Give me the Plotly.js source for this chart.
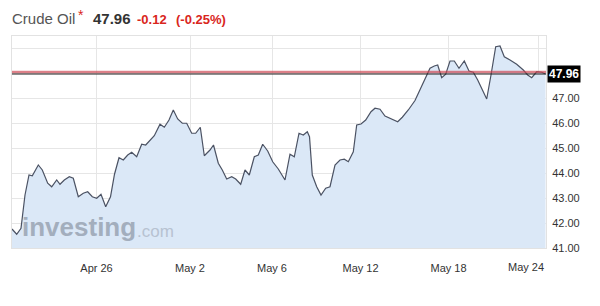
<!DOCTYPE html>
<html>
<head>
<meta charset="utf-8">
<script src="https://cdn.plot.ly/plotly-3.0.1.min.js"></script>
<style>html,body{margin:0;padding:0;background:#fff;}#chart{width:600px;height:306px;}</style>
</head>
<body>
<div id="chart"></div>
<script>
// time (trading hours, approx.) and Crude Oil price
var hours = [0,4.7,9,13,17,20.3,26.3,30.3,35.7,39.7,44.7,48,52.3,57.3,61.3,66.3,71.3,75.7,80.3,84.7,
  89,93.7,98.5,102.5,107,111.3,115.7,119.7,124.7,129.7,133.7,138,142.3,148,152.3,157,161.3,165.7,170.3,174.7,
  179.7,183.7,188.3,192.3,198,201.5,206.3,210.3,214.7,219.7,223.7,228.7,233,237.3,242.3,246.3,250.7,255.7,260.7,266.3,
  273,278,282.3,287,291.3,295.3,297.5,300.3,304.7,309,313.7,318,323,328,332.3,336.3,341.3,344.7,349,353.7,
  359,363,368,373,378,381.3,385.7,390.3,396.3,403,408,413.7,418,422.3,425.7,429.7,433.7,438,442.3,447,
  452.3,457,461.3,465.7,470.3,474.7,479,483.7,488,492.3,498,504.7,511.3,515.7,519.7,524.7,529.7,533.5];
var price = [41.76,41.55,41.79,43.12,43.92,43.89,44.32,44.12,43.59,43.45,43.72,43.55,43.72,43.85,43.79,43.05,43.19,43.25,43.05,42.99,
  43.15,42.65,43.05,43.95,44.61,44.52,44.72,44.83,44.65,45.15,45.12,45.32,45.49,45.95,45.83,46.12,46.52,46.16,45.99,45.99,
  45.59,45.59,45.83,44.69,44.92,45.12,44.39,44.12,43.76,43.85,43.76,43.55,44.12,43.92,44.65,44.72,45.15,44.88,44.45,44.16,
  43.72,44.75,44.65,45.59,45.52,45.65,45.45,43.92,43.45,43.12,43.39,43.45,44.32,44.52,44.55,44.45,44.85,45.92,45.96,46.12,
  46.45,46.59,46.55,46.28,46.19,46.15,46.05,46.23,46.52,46.9,47.32,47.81,48.19,48.28,48.32,47.81,47.95,48.48,48.48,48.19,
  48.48,48.08,48.03,47.72,47.32,46.96,47.92,49.05,49.08,48.65,48.52,48.35,48.12,47.92,47.81,48.05,48.03,47.96];

var xTickVals = [84.5,178,260,348.5,436.5,526.5];
var xTickText = ['Apr 26','May 2','May 6','May 12','May 18',''];
var lastDateLabel = 'May 24';
var lastDateX = 514;
var yTickVals = [41,42,43,44,45,46,47,48,49];
var yTickText = ['41.00','42.00','43.00','44.00','45.00','46.00','47.00','',''];

var lastPrice = 47.96;
var prevLine = 48.04;
var change = '-0.12';
var changePct = '(-0.25%)';
var instrument = 'Crude Oil';

var FONT = '"Liberation Sans", Arial, sans-serif';

var trace = {
  x: hours, y: price, type: 'scatter', mode: 'lines',
  line: {color: '#4b5263', width: 1.2},
  fill: 'tozeroy', fillcolor: '#dbe8f7',
  hoverinfo: 'skip'
};

function px(xp){ return xp - 12; }
function py(yp){ return 36 - yp; }

var layout = {
  width: 600, height: 306,
  margin: {l: 12, r: 54, t: 36, b: 58, pad: 0},
  paper_bgcolor: '#ffffff', plot_bgcolor: '#ffffff',
  showlegend: false,
  font: {family: FONT, size: 11, color: '#333333'},
  xaxis: {
    range: [0, 534], tickmode: 'array', tickvals: xTickVals, ticktext: xTickText,
    showgrid: true, gridcolor: '#e6e6e6', gridwidth: 1, zeroline: false,
    showline: true, mirror: true, linecolor: '#e2e2e2', linewidth: 1,
    ticks: '', ticklabelstandoff: 10,
    tickfont: {family: FONT, size: 11, color: '#333333'}, fixedrange: true
  },
  yaxis: {
    range: [41, 49.48], side: 'right', tickmode: 'array', tickvals: yTickVals, ticktext: yTickText,
    showgrid: true, gridcolor: '#e6e6e6', gridwidth: 1, zeroline: false,
    showline: true, mirror: true, linecolor: '#e2e2e2', linewidth: 1,
    ticks: '', ticklabelstandoff: 3,
    tickfont: {family: FONT, size: 11, color: '#333333'}, fixedrange: true
  },
  shapes: [
    {type: 'line', xref: 'paper', x0: 0, x1: 1, yref: 'y', y0: prevLine, y1: prevLine,
     line: {color: 'rgba(214,90,100,0.35)', width: 3}},
    {type: 'line', xref: 'paper', x0: 0, x1: 1, yref: 'y', y0: prevLine, y1: prevLine,
     line: {color: '#c83c48', width: 1}},
    {type: 'line', xref: 'paper', x0: 0, x1: 1, yref: 'y', y0: lastPrice, y1: lastPrice,
     line: {color: '#1f1f1f', width: 1}}
  ],
  annotations: [
    {xref: 'paper', yref: 'paper', x: 0, y: 1, xshift: px(11), yshift: py(18), xanchor: 'left', yanchor: 'middle',
     text: instrument, showarrow: false, borderpad: 0, font: {family: FONT, size: 15, color: '#555555'}},
    {xref: 'paper', yref: 'paper', x: 0, y: 1, xshift: px(77), yshift: py(15), xanchor: 'left', yanchor: 'middle',
     text: '*', showarrow: false, borderpad: 0, font: {family: FONT, size: 14, color: '#d9261c'}},
    {xref: 'paper', yref: 'paper', x: 0, y: 1, xshift: px(92), yshift: py(18), xanchor: 'left', yanchor: 'middle',
     text: '<b>' + lastPrice.toFixed(2) + '</b>', showarrow: false, borderpad: 0, font: {family: FONT, size: 15, color: '#333333'}},
    {xref: 'paper', yref: 'paper', x: 0, y: 1, xshift: px(136), yshift: py(19), xanchor: 'left', yanchor: 'middle',
     text: '<b>' + change + '</b>', showarrow: false, borderpad: 0, font: {family: FONT, size: 13, color: '#d9261c'}},
    {xref: 'paper', yref: 'paper', x: 0, y: 1, xshift: px(175), yshift: py(19), xanchor: 'left', yanchor: 'middle',
     text: '<b>' + changePct + '</b>', showarrow: false, borderpad: 0, font: {family: FONT, size: 13, color: '#d9261c'}},
    {xref: 'paper', yref: 'y', x: 1, y: lastPrice, xshift: 1, xanchor: 'left', yanchor: 'middle',
     text: '<b>' + lastPrice.toFixed(2) + '</b>', showarrow: false, bgcolor: '#000000', borderpad: 1,
     font: {family: FONT, size: 12, color: '#ffffff'}},
    {xref: 'x', yref: 'paper', x: lastDateX, y: 0, yshift: -19, xanchor: 'center', yanchor: 'middle',
     text: lastDateLabel, showarrow: false, font: {family: FONT, size: 11, color: '#333333'}},
    {xref: 'paper', yref: 'paper', x: 0, y: 0, xshift: 9, yshift: 5, xanchor: 'left', yanchor: 'bottom',
     text: '<b>investing</b>', showarrow: false, borderpad: 0, font: {family: FONT, size: 26, color: '#a3aebd'}},
    {xref: 'paper', yref: 'paper', x: 0, y: 0, xshift: 124, yshift: 6, xanchor: 'left', yanchor: 'bottom',
     text: '.com', showarrow: false, borderpad: 0, font: {family: FONT, size: 17, color: '#b7c2d1'}}
  ]
};

Plotly.newPlot('chart', [trace], layout, {displayModeBar: false, staticPlot: true});
</script>
</body>
</html>
